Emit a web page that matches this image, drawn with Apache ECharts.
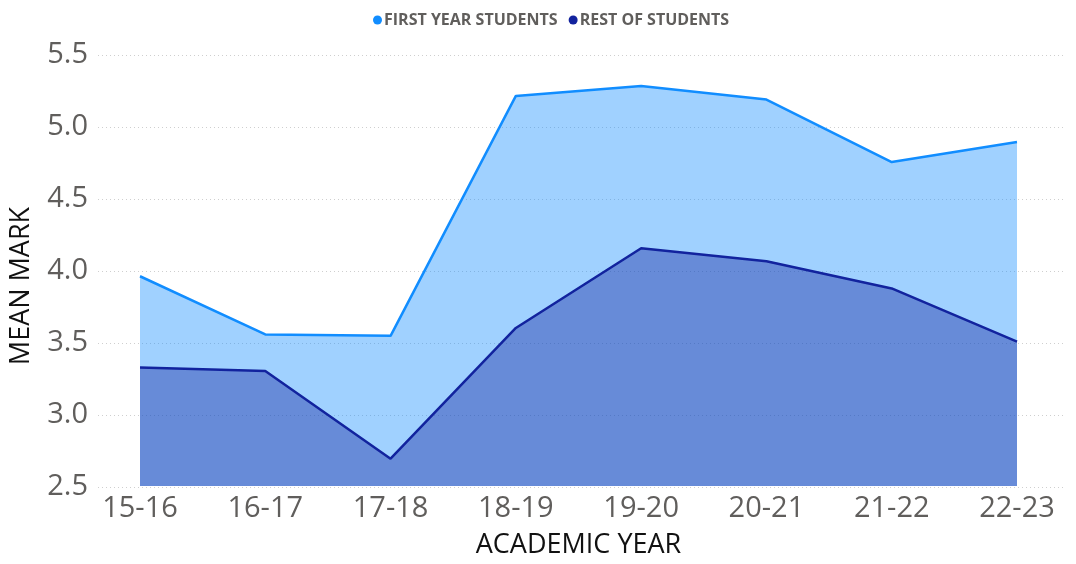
<!DOCTYPE html>
<html>
<head>
<meta charset="utf-8">
<script src="https://cdn.jsdelivr.net/npm/echarts@6/dist/echarts.min.js"></script>
<style>
  html, body { margin: 0; padding: 0; background: #fff; }
  #chart { width: 1076px; height: 564px; }
</style>
</head>
<body>
<div id="chart"></div>
<script>
// Academic years shown on the horizontal axis
const years = ['15-16', '16-17', '17-18', '18-19', '19-20', '20-21', '21-22', '22-23'];
// Mean marks per academic year
const firstYear = [3.96, 3.555, 3.545, 5.215, 5.285, 5.19, 4.755, 4.895];
const restOfStudents = [3.325, 3.30, 2.69, 3.60, 4.155, 4.065, 3.875, 3.505];
const seriesNames = ['FIRST YEAR STUDENTS', 'REST OF STUDENTS'];

const FONT = '"Open Sans", "Noto Sans", sans-serif';
const TOP = 55, BOTTOM = 77;
const Y_MIN = 2.5, Y_MAX = 5.5, Y_STEP = 0.5;

const chart = echarts.init(document.getElementById('chart'));
chart.setOption({
  animation: false,
  legend: {
    data: seriesNames,
    top: 7,
    left: 368,
    icon: 'circle',
    itemWidth: 9,
    itemHeight: 9,
    itemGap: 11,
    textStyle: { fontFamily: FONT, fontSize: 16, fontWeight: 'bold', color: '#605E5C', padding: [0, 0, 0, -3] }
  },
  grid: [
    // wide grid: gridlines and value labels
    { left: 90, right: 10, top: TOP, bottom: BOTTOM },
    // plotting grid: category positions
    { left: 140, right: 59, top: TOP, bottom: BOTTOM }
  ],
  xAxis: [
    { gridIndex: 0, type: 'category', data: years, show: false },
    {
      gridIndex: 1, type: 'category', data: years, boundaryGap: false,
      axisLine: { show: false }, axisTick: { show: false },
      axisLabel: { fontFamily: FONT, fontSize: 29, color: '#605E5C', margin: 8 },
      name: 'ACADEMIC YEAR', nameLocation: 'middle', nameGap: 46,
      nameTextStyle: { fontFamily: FONT, fontSize: 27, color: '#111' }
    }
  ],
  yAxis: [
    {
      gridIndex: 0, type: 'value', min: Y_MIN, max: Y_MAX, interval: Y_STEP,
      axisLine: { show: false }, axisTick: { show: false },
      axisLabel: { fontFamily: FONT, fontSize: 29, color: '#605E5C', margin: 10,
                   formatter: v => v.toFixed(1) },
      splitLine: { lineStyle: { color: '#cfcfcf', type: [1, 3], width: 1 } },
      name: 'MEAN MARK', nameLocation: 'middle', nameGap: 63,
      nameTextStyle: { fontFamily: FONT, fontSize: 27, color: '#111', padding: [0, 30, 0, 0] }
    },
    {
      gridIndex: 1, type: 'value', min: Y_MIN, max: Y_MAX, interval: Y_STEP,
      show: false, splitLine: { show: false }
    }
  ],
  series: [
    {
      name: seriesNames[0], type: 'line', xAxisIndex: 1, yAxisIndex: 1,
      data: firstYear, symbol: 'none', color: '#118DFF',
      lineStyle: { width: 2.5, color: '#118DFF' },
      areaStyle: { color: '#118DFF', opacity: 0.4, origin: 'start' }
    },
    {
      name: seriesNames[1], type: 'line', xAxisIndex: 1, yAxisIndex: 1,
      data: restOfStudents, symbol: 'none', color: '#12239E',
      lineStyle: { width: 2.5, color: '#12239E' },
      areaStyle: { color: '#12239E', opacity: 0.4, origin: 'start' }
    }
  ]
});
</script>
</body>
</html>
